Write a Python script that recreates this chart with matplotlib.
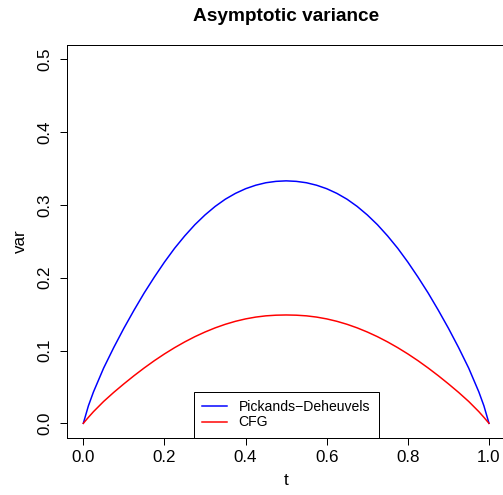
import matplotlib
matplotlib.use("Agg")
import matplotlib.pyplot as plt

# values (the curves are symmetric about t = 0.5)
t = [0.0, 0.0125, 0.025, 0.05, 0.075, 0.1, 0.125, 0.15, 0.175, 0.2, 0.225, 0.25, 0.275,
     0.3, 0.325, 0.35, 0.375, 0.4, 0.425, 0.45, 0.475, 0.5,
     0.525, 0.55, 0.575, 0.6, 0.625, 0.65, 0.675, 0.7, 0.725, 0.75, 0.775, 0.8,
     0.825, 0.85, 0.875, 0.9, 0.925, 0.95, 0.975, 0.9875, 1.0]
pd_half = [0.0, 0.024, 0.0431, 0.0758, 0.1041, 0.1306, 0.1554, 0.1790, 0.2008, 0.2214, 0.2404,
           0.2574, 0.2728, 0.2862, 0.2979, 0.3078, 0.3158, 0.3222, 0.3270, 0.3304, 0.3323, 0.333]
cfg_half = [0.0, 0.0082, 0.016, 0.030, 0.0425, 0.0542, 0.0654, 0.076, 0.086, 0.0953, 0.1039,
            0.1118, 0.119, 0.1254, 0.1311, 0.136, 0.1401, 0.1434, 0.1459, 0.1476, 0.1485, 0.1488]
var_pd = pd_half + pd_half[-2::-1]
var_cfg = cfg_half + cfg_half[-2::-1]
xticks = [0.0, 0.2, 0.4, 0.6, 0.8, 1.0]
yticks = [0.0, 0.1, 0.2, 0.3, 0.4, 0.5]

plt.rcParams['font.family'] = ['Liberation Sans', 'DejaVu Sans']

fig = plt.figure(figsize=(503/72, 495/72), dpi=72)
ax = fig.add_axes([0.1334, 0.1154, 1.0044 - 0.1334, 0.9097 - 0.1154])

ax.plot(t, var_pd, color='blue', lw=1.5, label='Pickands\u2212Deheuvels')
ax.plot(t, var_cfg, color='red', lw=1.5, label='CFG')

ax.set_xlim(-0.04, 1.04)
ax.set_ylim(-0.02, 0.52)
ax.set_xticks(xticks)
ax.set_yticks(yticks)
ax.set_xticklabels([f"{v:.1f}" for v in xticks], fontsize=17)
ax.set_yticklabels([f"{v:.1f}" for v in yticks], fontsize=17, rotation=90, va='center')
ax.tick_params(direction='out', length=7, width=1, colors='black')
ax.tick_params(axis='x', pad=5)
ax.tick_params(axis='y', pad=7.5)
for s in ax.spines.values():
    s.set_linewidth(1)

ax.set_xlabel('t', fontsize=17, labelpad=8)
ax.set_ylabel('var', fontsize=17, labelpad=10)
ax.set_title('Asymptotic variance', fontsize=19, fontweight='bold', pad=24)

leg = ax.legend(loc='lower center', bbox_to_anchor=(0.5, 0.0), borderaxespad=0,
                fancybox=False, edgecolor='black', framealpha=1, fontsize=14,
                handlelength=1.8, handletextpad=0.8, borderpad=0.6, labelspacing=0.1)
leg.get_frame().set_linewidth(1)

fig.savefig('out.png', dpi=72)
